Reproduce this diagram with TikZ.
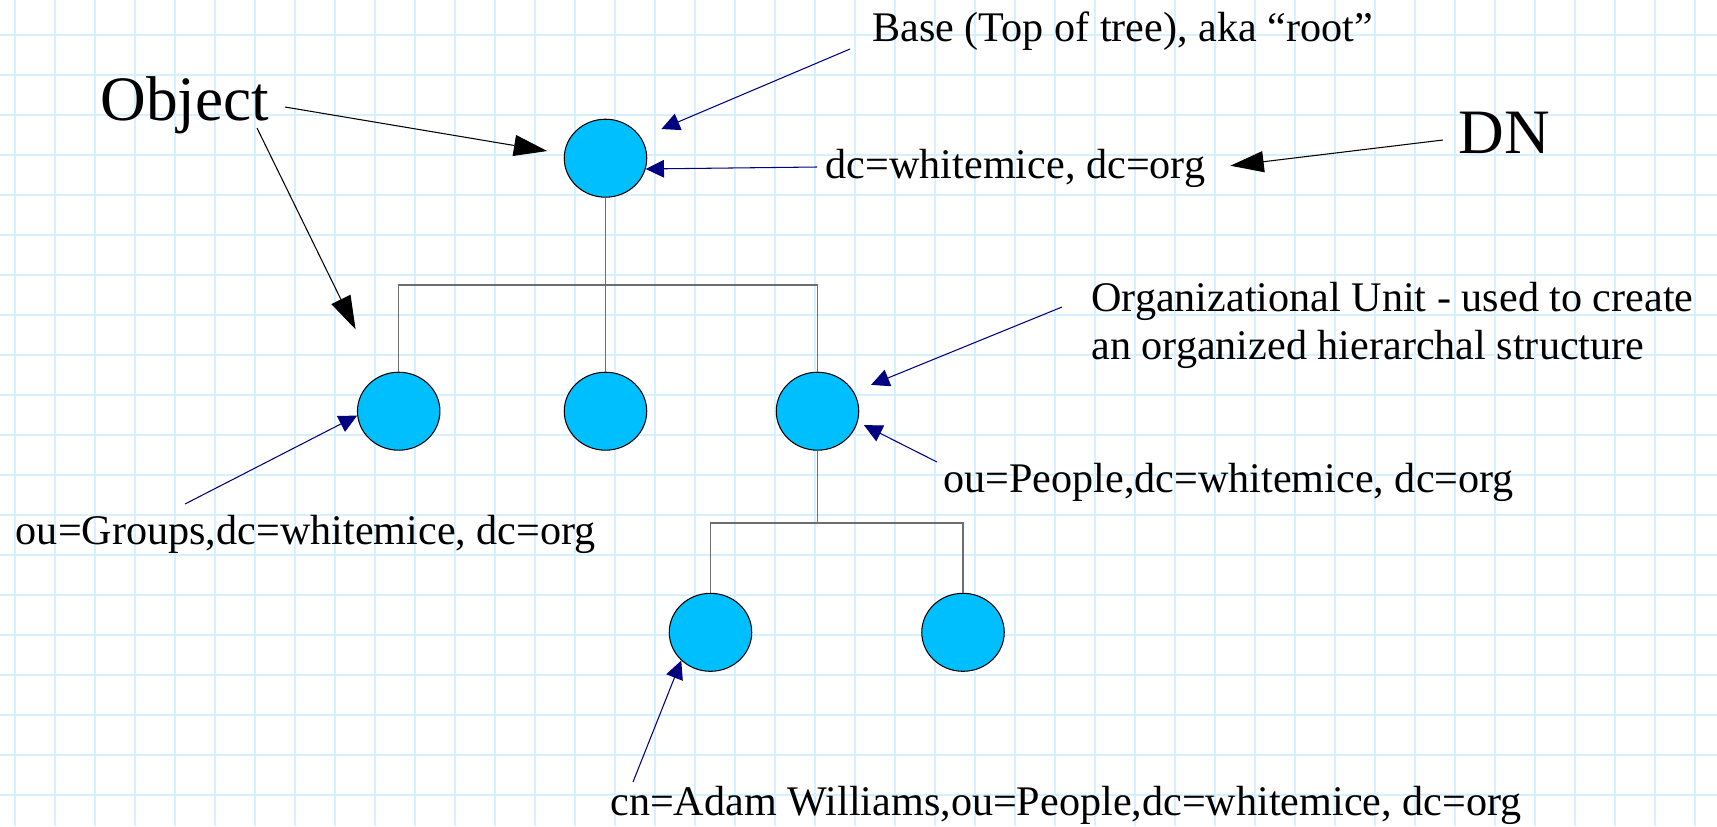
\documentclass[tikz,border=0pt]{standalone}
\usepackage{fontspec}
\setmainfont{Liberation Serif}
\usetikzlibrary{arrows.meta,shapes.geometric}
\definecolor{gridblue}{RGB}{215,240,255}
\definecolor{entryblue}{RGB}{0,191,255}
\definecolor{dnnavy}{RGB}{0,0,128}
\definecolor{branchgray}{RGB}{110,110,110}
\begin{document}
\begin{tikzpicture}[x=0.02cm,y=-0.02cm]
	\useasboundingbox (0,0) rectangle (1717,826);
	\fill[white] (0,0) rectangle (1717,826);
	\foreach \gx in {15,55,...,1695}
		\draw[gridblue,line width=1.1pt] (\gx,0) -- (\gx,826);
	\foreach \gy in {35,75,...,795}
		\draw[gridblue,line width=1.1pt] (0,\gy) -- (1717,\gy);

	\tikzstyle entry=[draw,ellipse,fill=entryblue,line width=0.6pt,inner sep=0pt,minimum width=1.65cm,minimum height=1.56cm]
	\tikzstyle dnnote=[inner sep=0pt,anchor=base west,font=\fontsize{24}{27.4}\selectfont]
	\tikzstyle bigword=[inner sep=0pt,anchor=base west,font=\fontsize{36}{40}\selectfont]
	\tikzstyle pointer=[dnnavy,line width=0.6pt,-{Triangle[length=10.4pt,width=10pt]}]
	\tikzstyle bigpointer=[black,line width=0.6pt,-{Triangle[length=19pt,width=12pt]}]
	\tikzstyle branch=[branchgray,line width=0.9pt]

	\node[entry] (root) at (605.5,158.2) {};
	\node[entry] (groups) at (398.7,411.2) {};
	\node[entry] (mid) at (605.5,411.2) {};
	\node[entry] (people) at (817.5,411.2) {};
	\node[entry] (adam) at (710.5,632.3) {};
	\node[entry] (other) at (963,632.3) {};

	\path (root) ++(0,126.5) coordinate (j1);
	\path (people) ++(0,111.5) coordinate (j2);
	\draw[branch] (root) -- (j1) -| (groups);
	\draw[branch] (j1) -| (people);
	\draw[branch] (j1) -- (mid);
	\draw[branch] (people) -- (j2) -| (adam);
	\draw[branch] (j2) -| (other);

	\node[dnnote] (base) at (872,41.7) {Base (Top of tree), aka “root”};
	\node[dnnote] (dcroot) at (825.5,178.8) {dc=whitemice, dc=org};
	\node[dnnote,align=left] (ou) at (1091,359.5) {Organizational Unit - used to create\\an organized hierarchal structure};
	\node[dnnote] (dcpeople) at (943,492) {ou=People,dc=whitemice, dc=org};
	\node[dnnote] (dcgroups) at (15.5,544) {ou=Groups,dc=whitemice, dc=org};
	\node[dnnote] (dcadam) at (610,815.5) {cn=Adam Williams,ou=People,dc=whitemice, dc=org};
	\node[bigword] (object) at (100,120.5) {Object};
	\node[bigword] (dn) at (1458,153) {DN};

	\coordinate (sbase) at (850,49);
	\coordinate (sdcroot) at (817,167);
	\coordinate (sou) at (1062,307);
	\coordinate (speople) at (937,462);
	\coordinate (sgroups) at (185,504);
	\coordinate (sadam) at (633,782);
	\coordinate (sobja) at (285,107);
	\coordinate (sobjb) at (257,128);
	\coordinate (sdn) at (1443,140);

	\draw[pointer,shorten >=0.44cm] (sbase) -- (root.30);
	\draw[pointer] (sdcroot) -- (root.-15);
	\draw[pointer,shorten >=0.37cm] (sou) -- (people.28);
	\draw[pointer,shorten >=0.14cm] (speople) -- (people.-15);
	\draw[pointer] (sgroups) -- (groups.186);
	\draw[pointer] (sadam) -- (adam.224);
	\draw[bigpointer,shorten >=0.34cm] (sobja) -- (root.174);
	\draw[bigpointer,shorten >=1.05cm] (sobjb) -- (groups.120);
	\draw[bigpointer,shorten >=0.5cm] (sdn) -- (dcroot.east);
\end{tikzpicture}
\end{document}
